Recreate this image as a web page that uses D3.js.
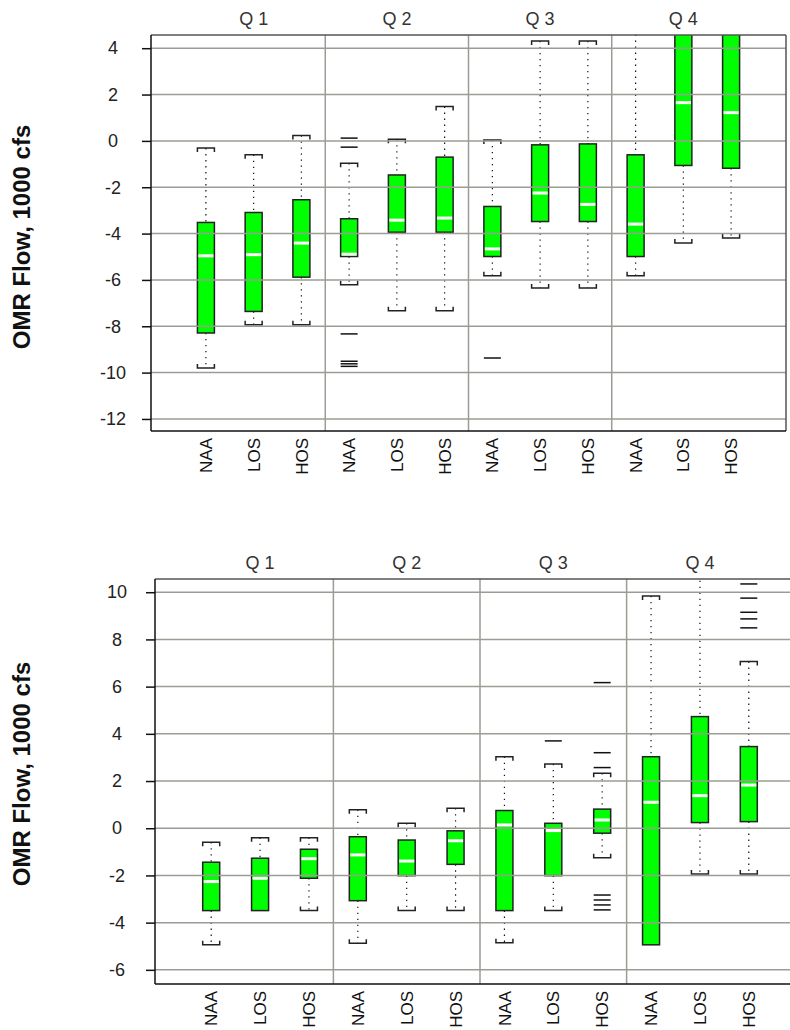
<!DOCTYPE html>
<html>
<head>
    <meta charset="utf-8">
    <title>OMR Flow boxplots</title>
    <script src="https://d3js.org/d3.v7.min.js"></script>
    <style>
        body { margin: 0; background: #fff; }
        text { font-family: "Liberation Sans", Arial, sans-serif; }
    </style>
</head>
<body>
    <div id="chart"></div>
    <script>

        // categories
        var quarters = ["Q 1", "Q 2", "Q 3", "Q 4"];
        var scenarios = ["NAA", "LOS", "HOS"];

        // top panel: whisker ends, box edges, medians (Q1 NAA, LOS, HOS, Q2 NAA ... Q4 HOS)
        var topUpper  = [-0.31, -0.60, 0.23, -0.96, 0.07, 1.48, 0.04, 4.31, 4.31, 6.4, 7.6, 7.3];
        var topQ3     = [-3.52, -3.09, -2.54, -3.36, -1.47, -0.70, -2.83, -0.17, -0.13, -0.60, 5.2, 5.0];
        var topMedian = [-4.96, -4.91, -4.41, -4.89, -3.42, -3.33, -4.66, -2.25, -2.74, -3.59, 1.65, 1.22];
        var topQ1     = [-8.29, -7.36, -5.88, -4.99, -3.94, -3.94, -4.99, -3.48, -3.48, -4.99, -1.06, -1.18];
        var topLower  = [-9.80, -7.93, -7.93, -6.21, -7.33, -7.33, -5.82, -6.35, -6.35, -5.82, -4.41, -4.19];
        var topOutliers = [[], [], [], [0.12, -0.27, -8.33, -9.51, -9.62, -9.73], [], [], [-9.37], [], [], [], [], []];
        var topTicks = [4, 2, 0, -2, -4, -6, -8, -10, -12];

        // bottom panel
        var botUpper  = [-0.59, -0.40, -0.40, 0.78, 0.21, 0.85, 3.03, 2.72, 2.33, 9.84, 11.5, 7.06];
        var botQ3     = [-1.44, -1.27, -0.89, -0.36, -0.50, -0.11, 0.75, 0.21, 0.81, 3.03, 4.73, 3.46];
        var botMedian = [-2.26, -2.12, -1.29, -1.13, -1.39, -0.53, 0.14, -0.10, 0.35, 1.10, 1.38, 1.83];
        var botQ1     = [-3.49, -3.49, -2.12, -3.07, -2.01, -1.53, -3.49, -2.01, -0.21, -4.94, 0.24, 0.28];
        var botLower  = [-4.94, -3.49, -3.49, -4.87, -3.49, -3.49, -4.85, -3.49, -1.25, -4.94, -1.94, -1.94];
        var botOutliers = [[], [], [], [], [], [], [], [3.70], [6.17, 3.20, 2.57, -2.83, -3.04, -3.25, -3.46], [], [], [10.35, 9.75, 9.15, 8.87, 8.49]];
        var botTicks = [10, 8, 6, 4, 2, 0, -2, -4, -6];

        var width = 790;
        var height = 1030;

        var svg = d3.select("#chart")
            .append("svg")
            .attr("width", width)
            .attr("height", height);

        function buildBoxes(upper, q3, median, q1, lower, outliers) {
            var out = [];
            for (var i = 0; i < upper.length; i++) {
                out.push({
                    pos: i + 1,
                    quarter: quarters[Math.floor(i / 3)],
                    scenario: scenarios[i % 3],
                    upper: upper[i], q3: q3[i], median: median[i], q1: q1[i], lower: lower[i],
                    outliers: outliers[i]
                });
            }
            return out;
        }

        function drawPanel(cfg) {
            var x = d3.scaleLinear().domain([-0.15, 13.15]).range([cfg.left, cfg.right]);
            var y = d3.scaleLinear().domain(cfg.yDomain).range([cfg.bottom, cfg.top]);
            var boxW = 17;
            var grid = "#9c9c95";

            var g = svg.append("g");

            var clipId = "clip-" + cfg.id;
            g.append("clipPath").attr("id", clipId)
                .append("rect")
                .attr("x", cfg.left).attr("y", cfg.top)
                .attr("width", cfg.right - cfg.left).attr("height", cfg.bottom - cfg.top);

            var plot = g.append("g").attr("clip-path", "url(#" + clipId + ")");

            var boxes = buildBoxes(cfg.upper, cfg.q3, cfg.median, cfg.q1, cfg.lower, cfg.outliers);

            var b = plot.selectAll("g.box").data(boxes).enter().append("g").attr("class", "box");

            // whiskers (dotted)
            b.append("line")
                .attr("x1", function (d) { return x(d.pos); })
                .attr("x2", function (d) { return x(d.pos); })
                .attr("y1", function (d) { return y(d.upper); })
                .attr("y2", function (d) { return y(d.q3); })
                .attr("stroke", "#111").attr("stroke-width", 1.2)
                .attr("stroke-dasharray", "1.3,4.7");
            b.append("line")
                .attr("x1", function (d) { return x(d.pos); })
                .attr("x2", function (d) { return x(d.pos); })
                .attr("y1", function (d) { return y(d.q1); })
                .attr("y2", function (d) { return y(d.lower); })
                .attr("stroke", "#111").attr("stroke-width", 1.2)
                .attr("stroke-dasharray", "1.3,4.7");

            // caps drawn as brackets
            b.filter(function (d) { return d.upper > d.q3; })
                .append("path")
                .attr("d", function (d) {
                    var cx = x(d.pos), cy = y(d.upper);
                    return "M" + (cx - boxW / 2) + "," + (cy + 4) + "V" + cy + "H" + (cx + boxW / 2) + "V" + (cy + 4);
                })
                .attr("fill", "none").attr("stroke", "#222").attr("stroke-width", 1.5);
            b.filter(function (d) { return d.lower < d.q1; })
                .append("path")
                .attr("d", function (d) {
                    var cx = x(d.pos), cy = y(d.lower);
                    return "M" + (cx - boxW / 2) + "," + (cy - 4) + "V" + cy + "H" + (cx + boxW / 2) + "V" + (cy - 4);
                })
                .attr("fill", "none").attr("stroke", "#222").attr("stroke-width", 1.5);

            // boxes
            b.append("rect")
                .attr("x", function (d) { return x(d.pos) - boxW / 2; })
                .attr("y", function (d) { return y(d.q3); })
                .attr("width", boxW)
                .attr("height", function (d) { return y(d.q1) - y(d.q3); })
                .attr("fill", "#00ff00")
                .attr("stroke", "#222").attr("stroke-width", 1.5);

            // medians
            b.append("line")
                .attr("x1", function (d) { return x(d.pos) - boxW / 2 + 1; })
                .attr("x2", function (d) { return x(d.pos) + boxW / 2 - 1; })
                .attr("y1", function (d) { return y(d.median); })
                .attr("y2", function (d) { return y(d.median); })
                .attr("stroke", "#fff").attr("stroke-width", 3);

            // outliers as short lines
            b.selectAll("line.out")
                .data(function (d) { return d.outliers.map(function (v) { return { pos: d.pos, v: v }; }); })
                .enter().append("line").attr("class", "out")
                .attr("x1", function (d) { return x(d.pos) - boxW / 2; })
                .attr("x2", function (d) { return x(d.pos) + boxW / 2; })
                .attr("y1", function (d) { return y(d.v); })
                .attr("y2", function (d) { return y(d.v); })
                .attr("stroke", "#111").attr("stroke-width", 1.5);

            // grid on top of boxes
            g.selectAll("line.hgrid").data(cfg.ticks).enter().append("line")
                .attr("x1", cfg.left).attr("x2", cfg.right)
                .attr("y1", function (d) { return y(d); }).attr("y2", function (d) { return y(d); })
                .attr("stroke", grid).attr("stroke-width", 1.5);
            g.selectAll("line.vgrid").data([3.5, 6.5, 9.5]).enter().append("line")
                .attr("x1", function (d) { return x(d); }).attr("x2", function (d) { return x(d); })
                .attr("y1", cfg.top).attr("y2", cfg.bottom)
                .attr("stroke", grid).attr("stroke-width", 1.5);

            // frame: top and right edges
            g.append("line").attr("x1", cfg.left).attr("x2", cfg.right)
                .attr("y1", cfg.top).attr("y2", cfg.top)
                .attr("stroke", "#555").attr("stroke-width", 1.5);
            g.append("line").attr("x1", cfg.right).attr("x2", cfg.right)
                .attr("y1", cfg.top).attr("y2", cfg.bottom)
                .attr("stroke", "#555").attr("stroke-width", 1.5);

            // left axis, plain hyphen for negatives like the original
            var yAxis = d3.axisLeft(y).tickValues(cfg.ticks).tickSize(9)
                .tickFormat(function (d) { return String(d); });
            var ay = g.append("g").attr("transform", "translate(" + cfg.left + ",0)").call(yAxis);
            ay.select(".domain").attr("d", "M0," + cfg.top + "V" + cfg.bottom)
                .attr("stroke", "#111").attr("stroke-width", 1.5);
            ay.selectAll(".tick line").attr("stroke", "#111").attr("stroke-width", 1.5);
            ay.selectAll(".tick text")
                .attr("x", -38).attr("text-anchor", "middle")
                .attr("font-size", 18).attr("fill", "#222")
                .style("font-family", "Liberation Sans, Arial, sans-serif");

            // bottom axis line
            g.append("line").attr("x1", cfg.left).attr("x2", cfg.right)
                .attr("y1", cfg.bottom).attr("y2", cfg.bottom)
                .attr("stroke", "#111").attr("stroke-width", 1.5);

            // scenario labels (rotated)
            g.selectAll("text.cat").data(boxes).enter().append("text")
                .attr("class", "cat")
                .attr("transform", function (d) { return "translate(" + x(d.pos) + "," + (cfg.bottom + 7) + ") rotate(-90)"; })
                .attr("dy", "0.36em")
                .attr("text-anchor", "end")
                .attr("font-size", 17).attr("fill", "#111")
                .text(function (d) { return d.scenario; });

            // quarter headers
            g.selectAll("text.q").data(quarters).enter().append("text")
                .attr("class", "q")
                .attr("x", function (d, i) { return x(i * 3 + 2); })
                .attr("y", cfg.top - 10)
                .attr("text-anchor", "middle")
                .attr("font-size", 18).attr("fill", "#333")
                .text(function (d) { return d; });

            // y label
            g.append("text")
                .attr("transform", "translate(" + cfg.labelX + "," + cfg.labelY + ") rotate(-90)")
                .attr("dy", "0.35em")
                .attr("text-anchor", "middle")
                .attr("font-size", 24).attr("font-weight", "bold").attr("fill", "#111")
                .text("OMR Flow, 1000 cfs");
        }

        drawPanel({
            id: "top", left: 151, right: 786, top: 35, bottom: 431,
            yDomain: [-12.52, 4.57], ticks: topTicks, labelX: 22, labelY: 237,
            upper: topUpper, q3: topQ3, median: topMedian, q1: topQ1, lower: topLower, outliers: topOutliers
        });

        drawPanel({
            id: "bot", left: 155, right: 805, top: 579, bottom: 984,
            yDomain: [-6.6, 10.56], ticks: botTicks, labelX: 22, labelY: 774,
            upper: botUpper, q3: botQ3, median: botMedian, q1: botQ1, lower: botLower, outliers: botOutliers
        });

    </script>
</body>
</html>
